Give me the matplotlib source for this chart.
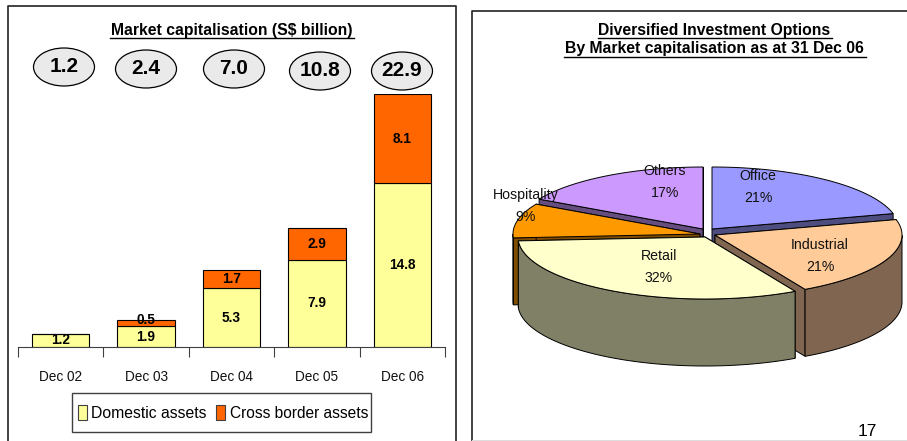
import numpy as np
import matplotlib
matplotlib.use('Agg')
import matplotlib.pyplot as plt
from matplotlib.patches import Ellipse, Polygon, Rectangle

# bar chart data
years = ['Dec 02', 'Dec 03', 'Dec 04', 'Dec 05', 'Dec 06']
domestic = [1.2, 1.9, 5.3, 7.9, 14.8]
cross_border = [0, 0.5, 1.7, 2.9, 8.1]
totals = ['1.2', '2.4', '7.0', '10.8', '22.9']

# pie chart data
sectors = ['Office', 'Industrial', 'Retail', 'Hospitality', 'Others']
shares = [21, 21, 32, 9, 17]

W, H = 907, 441
plt.rcParams['font.family'] = ['Liberation Sans', 'DejaVu Sans']
fig = plt.figure(figsize=(W / 100, H / 100), dpi=100, facecolor='white')

# overlay in pixel coords for frames and the pie
bg = fig.add_axes([0, 0, 1, 1])
bg.set_xlim(0, W)
bg.set_ylim(H, 0)
bg.axis('off')

bg.plot([7.5, 7.5, 455.5, 455.5], [H, 6, 6, H], color='#222222', lw=1.2)
bg.plot([472, 472, 907], [H, 10.5, 10.5], color='#222222', lw=1.2)
bg.plot([472, 907], [440, 440], color='#DDDDDD', lw=0.8)

def underlined(x, y, s, half):
    bg.text(x, y, s, ha='center', va='center', fontsize=11.3, fontweight='bold')
    bg.plot([x - half, x + half], [y + 8, y + 8], color='black', lw=1)

underlined(231.5, 30, 'Market capitalisation (S$ billion)', 122)
underlined(714.5, 30, 'Diversified Investment Options', 117)
underlined(714.5, 49, 'By Market capitalisation as at 31 Dec 06', 151)

# bars
ax = fig.add_axes([18 / W, 1 - 347 / H, 427 / W, 253 / H])
x = np.arange(len(years))
ax.bar(x, domestic, width=0.67, color='#FFFF99', edgecolor='black', lw=0.8)
ax.bar(x, cross_border, width=0.67, bottom=domestic, color='#FF6600', edgecolor='black', lw=0.8)
ax.set_xlim(-0.5, 4.5)
ax.set_ylim(0, 22.9)
for s in ['top', 'left', 'right']:
    ax.spines[s].set_visible(False)
ax.spines['bottom'].set_color('#404040')
ax.set_yticks([])
ax.set_xticks(np.arange(-0.5, 5))
ax.set_xticklabels([])
ax.tick_params(axis='x', length=7, color='#404040', width=0.8)
for i in range(len(years)):
    ax.text(i, -2.73, years[i], ha='center', va='center', fontsize=9.8, color='#111111')
    ax.text(i, domestic[i] / 2, '%.1f' % domestic[i], ha='center', va='center',
            fontsize=9.8, fontweight='bold')
    if cross_border[i] > 0:
        ax.text(i, domestic[i] + cross_border[i] / 2 + (0.25 if i == 1 else 0), '%.1f' % cross_border[i],
                ha='center', va='center', fontsize=9.8, fontweight='bold')

# total bubbles
bubble_x = [64, 146, 234, 320, 402]
bubble_y = [67, 69, 69, 71, 71]
for bx, by, t in zip(bubble_x, bubble_y, totals):
    bg.add_patch(Ellipse((bx, by), 61, 38, fc='#EAEAEA', ec='black', lw=0.9))
    bg.text(bx, by, t, ha='center', va='center', fontsize=15, fontweight='bold')

# legend
bg.add_patch(Rectangle((72, 393), 299, 39, fc='white', ec='#404040', lw=1))
bg.add_patch(Rectangle((78, 405), 9, 15, fc='#FFFF99', ec='#404040', lw=0.8))
bg.add_patch(Rectangle((216, 405), 9, 15, fc='#FF6600', ec='#404040', lw=0.8))
bg.text(91, 413, 'Domestic assets', ha='left', va='center', fontsize=11.3)
bg.text(230, 413, 'Cross border assets', ha='left', va='center', fontsize=11.2)

# pie, squashed ellipse with a wall below each slice
A, B, DEPTH = 187, 62, 67
tips = {'Office': (712, 229), 'Industrial': (715, 235), 'Retail': (705, 237),
        'Hospitality': (700, 234), 'Others': (703, 229)}
tops = {'Office': '#9999FF', 'Industrial': '#FFCC99', 'Retail': '#FFFFCC',
        'Hospitality': '#FF9900', 'Others': '#CC99FF'}
walls = {'Office': '#4D4D80', 'Industrial': '#806650', 'Retail': '#808066',
         'Hospitality': '#804D00', 'Others': '#664D80'}
label_pos = {'Office': (758, 187), 'Industrial': (820, 256), 'Retail': (659, 267),
             'Hospitality': (526, 206), 'Others': (665, 182)}

angles = {}
start = 90.0
for name, share in zip(sectors, shares):
    angles[name] = (start, start - share * 3.6)
    start -= share * 3.6

for name in ['Others', 'Office', 'Hospitality', 'Industrial', 'Retail']:
    a0, a1 = angles[name]
    cx, cy = tips[name]
    t = np.radians(np.linspace(a0, a1, 120))
    rim = np.column_stack([cx + A * np.cos(t), cy - B * np.sin(t)])
    # cut faces first, the wall and top hide what should not show
    for px, py in [rim[0], rim[-1]]:
        face = [(cx, cy), (px, py), (px, py + DEPTH), (cx, cy + DEPTH)]
        bg.add_patch(Polygon(face, fc=walls[name], ec='black', lw=0.7))
    # outer wall, only where the rim faces the viewer
    front = rim[np.sin(t) <= 0]
    if len(front) > 1:
        low = front + [0, DEPTH]
        bg.add_patch(Polygon(np.vstack([front, low[::-1]]), fc=walls[name], ec='black', lw=0.7))
    bg.add_patch(Polygon(np.vstack([[cx, cy], rim]), fc=tops[name], ec='black', lw=0.7))

for name, share in zip(sectors, shares):
    lx, ly = label_pos[name]
    bg.text(lx, ly, '%s\n%d%%' % (name, share), ha='center', va='center', fontsize=10.2,
            color='#111111', linespacing=1.8)

bg.text(867, 432, '17', ha='center', va='center', fontsize=12.5)
bg.set_zorder(0)
ax.set_zorder(1)
ax.patch.set_alpha(0)

fig.savefig('out.png', dpi=100)
